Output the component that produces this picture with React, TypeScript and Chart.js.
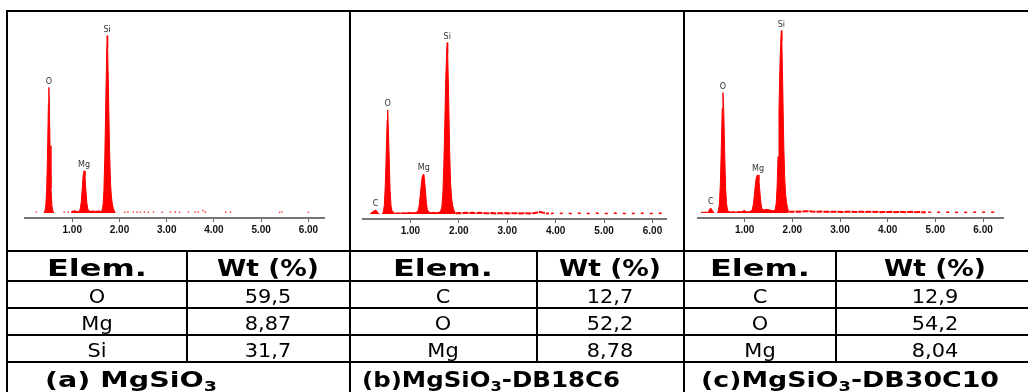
import React, { useEffect, useRef } from 'react';
import { Chart, registerables } from 'chart.js';

Chart.register(...registerables);

// ---------------- Data ----------------
const tickValues = [1, 2, 3, 4, 5, 6];
const tickLabels = ['1.00', '2.00', '3.00', '4.00', '5.00', '6.00'];

// (a) MgSiO3 spectrum
const aEnergy = [0.4, 0.42, 0.44, 0.46, 0.48, 0.495, 0.505, 0.515, 0.53, 0.55, 0.57, 0.59, 0.61, 0.62,
  0.98, 1.0, 1.03, 1.06, 1.09, 1.12, 1.15, 1.17, 1.19, 1.21, 1.23, 1.25, 1.27, 1.29, 1.31, 1.33, 1.36, 1.4, 1.45, 1.5, 1.55, 1.6,
  1.63, 1.65, 1.67, 1.69, 1.71, 1.73, 1.74, 1.75, 1.77, 1.79, 1.81, 1.83, 1.85, 1.87, 1.89, 1.91];
const aCounts = [0, 10, 40, 140, 380, 620, 708, 620, 380, 140, 40, 12, 0, null,
  0, 12, 10, 14, 8, 10, 8, 25, 60, 130, 210, 238, 205, 125, 55, 22, 12, 10, 12, 9, 12, 10,
  12, 40, 120, 320, 620, 920, 1000, 930, 650, 360, 170, 90, 50, 25, 12, 0];
const aDotEnergy = [0.24, 0.83, 0.92, 2.11, 2.18, 2.29, 2.37, 2.44, 2.53, 2.61, 2.72, 2.9, 3.08, 3.18, 3.27, 3.46, 3.6, 3.67, 3.77, 3.82, 4.25, 4.35, 5.39, 5.44, 6.0];
const aDotCounts = [6, 4, 5, 4, 6, 5, 4, 5, 6, 4, 5, 4, 5, 6, 4, 5, 4, 6, 14, 5, 4, 5, 4, 5, 4];
const aPeakNames = ['O', 'Mg', 'Si'];
const aPeakEnergy = [0.505, 1.25, 1.74];
const aPeakCounts = [708, 238, 1000];

// (b) MgSiO3-DB18C6 spectrum
const bEnergy = [0.17, 0.19, 0.22, 0.25, 0.28, 0.3, 0.32, 0.34, 0.36, 0.38,
  0.42, 0.44, 0.46, 0.48, 0.5, 0.52, 0.53, 0.54, 0.56, 0.58, 0.6, 0.62, 0.64,
  0.68, 0.74, 0.8, 0.86, 0.92, 0.98, 1.03, 1.08, 1.13,
  1.16, 1.18, 1.2, 1.22, 1.24, 1.26, 1.275, 1.29, 1.31, 1.33, 1.35, 1.38, 1.43, 1.48, 1.53, 1.58, 1.62,
  1.65, 1.67, 1.69, 1.71, 1.73, 1.75, 1.76, 1.77, 1.79, 1.81, 1.83, 1.85, 1.87, 1.89, 1.91, 1.93];
const bCounts = [0, 6, 12, 16, 22, 18, 10, 4, 0, null,
  0, 12, 45, 150, 330, 520, 575, 510, 320, 130, 45, 15, 6,
  4, 6, 4, 7, 5, 9, 6, 7, 10,
  20, 45, 95, 150, 200, 218, 221, 195, 130, 60, 25, 10, 7, 9, 6, 9, 12,
  40, 110, 270, 500, 750, 910, 947, 890, 640, 350, 170, 90, 50, 28, 14, 5];
const bBaseEnergy = [1.93, 2.0, 2.07, 2.14, 2.21, 2.28, 2.35, 2.42, 2.49, 2.56, 2.63, 2.7, 2.77, 2.84, 2.91, 2.98, 3.05, 3.12, 3.19, 3.26, 3.33, 3.4, 3.47, 3.54, 3.6, 3.65, 3.7, 3.75, 3.8, 3.86];
const bBaseCounts = [4, 5, 4, 6, 5, 6, 4, 6, 5, 4, 4, 5, 3, 4, 4, 5, 3, 4, 4, 3, 4, 4, 3, 4, 6, 12, 9, 6, 4, 3];
const bTailEnergy = [3.9, 4.0, 4.1, 4.2, 4.3, 4.4, 4.5, 4.6, 4.7, 4.8, 4.9, 5.0, 5.1, 5.2, 5.3, 5.4, 5.5, 5.6, 5.7, 5.8, 5.9, 6.0, 6.1, 6.2];
const bTailCounts = [3, 4, 3, 4, 3, 3, 4, 3, 3, 4, 4, 3, 3, 4, 4, 3, 3, 3, 4, 4, 3, 3, 3, 4];
const bPeakNames = ['C', 'O', 'Mg', 'Si'];
const bPeakEnergy = [0.28, 0.53, 1.275, 1.76];
const bPeakCounts = [22, 575, 221, 947];

// (c) MgSiO3-DB30C10 spectrum
const cEnergy = [0.08, 0.1, 0.14, 0.18, 0.21,
  0.22, 0.24, 0.26, 0.28, 0.3, 0.32, 0.34, 0.36, 0.38,
  0.43, 0.45, 0.47, 0.49, 0.51, 0.53, 0.545, 0.56, 0.58, 0.6, 0.62, 0.64, 0.66,
  0.7, 0.76, 0.82, 0.88, 0.94, 0.99, 1.03, 1.08, 1.13,
  1.16, 1.18, 1.2, 1.22, 1.24, 1.26, 1.28, 1.3, 1.32, 1.34, 1.36, 1.4, 1.45, 1.5, 1.55, 1.6, 1.64,
  1.66, 1.68, 1.7, 1.72, 1.74, 1.76, 1.77, 1.78, 1.8, 1.82, 1.84, 1.86, 1.88, 1.9, 1.92];
const cCounts = [0, 4, 3, 5, 3,
  0, 8, 18, 26, 24, 14, 6, 0, null,
  0, 14, 50, 160, 360, 580, 665, 580, 340, 140, 50, 18, 8,
  5, 7, 4, 8, 6, 14, 7, 6, 10,
  20, 45, 90, 145, 190, 208, 210, 180, 115, 55, 25, 16, 20, 18, 15, 12, 18,
  50, 140, 310, 570, 820, 970, 1008, 950, 680, 380, 190, 100, 55, 28, 10];
const cBaseEnergy = [1.92, 1.99, 2.06, 2.13, 2.2, 2.27, 2.34, 2.41, 2.48, 2.55, 2.62, 2.69, 2.76, 2.83, 2.9, 2.97, 3.04, 3.11, 3.18, 3.25, 3.32, 3.39, 3.46, 3.53, 3.6, 3.67, 3.74, 3.81, 3.88, 3.95, 4.02, 4.09, 4.16, 4.23, 4.3, 4.37, 4.44, 4.51, 4.58, 4.65, 4.72, 4.8];
const cBaseCounts = [6, 7, 6, 8, 7, 9, 10, 8, 7, 6, 8, 6, 6, 7, 6, 6, 5, 6, 6, 7, 5, 6, 6, 5, 6, 6, 5, 6, 4, 6, 5, 6, 4, 5, 6, 4, 5, 6, 4, 5, 4, 4];
const cTailEnergy = [4.85, 4.95, 5.05, 5.15, 5.25, 5.35, 5.45, 5.55, 5.65, 5.75, 5.85, 5.95, 6.05, 6.15, 6.25, 6.35];
const cTailCounts = [4, 3, 4, 3, 4, 4, 3, 4, 3, 4, 4, 3, 4, 3, 4, 3];
const cPeakNames = ['C', 'O', 'Mg', 'Si'];
const cPeakEnergy = [0.29, 0.545, 1.28, 1.77];
const cPeakCounts = [26, 665, 210, 1008];

// Tables
const tableHeaders = ['Elem.', 'Wt (%)'];
const aElements = ['O', 'Mg', 'Si'];
const aWeights = ['59,5', '8,87', '31,7'];
const bElements = ['C', 'O', 'Mg'];
const bWeights = ['12,7', '52,2', '8,78'];
const cElements = ['C', 'O', 'Mg'];
const cWeights = ['12,9', '54,2', '8,04'];
const captionPrefix = ['(a) MgSiO', '(b)MgSiO', '(c)MgSiO'];
const captionSub = ['3', '3', '3'];
const captionSuffix = ['', '-DB18C6', '-DB30C10'];

// ---------------- Components ----------------
const RED = '#ff0000';

function pts(e: number[], c: (number | null)[]) {
  return e.map((x, i) => ({ x, y: c[i] }));
}

function makePeakPlugin(names: string[], energies: number[], counts: number[]) {
  return {
    id: 'peakLabels',
    afterDatasetsDraw(chart: any) {
      const { ctx, scales } = chart;
      ctx.save();
      ctx.font = "8px 'DejaVu Sans', sans-serif";
      ctx.fillStyle = '#333';
      ctx.textAlign = 'center';
      ctx.textBaseline = 'bottom';
      names.forEach((n, i) => {
        const x = scales.x.getPixelForValue(energies[i]);
        const y = scales.y.getPixelForValue(counts[i]);
        ctx.fillText(n, x, y - 2);
      });
      ctx.restore();
    },
  };
}

type SpecProps = {
  left: number; top: number; width: number; height: number; xMax: number;
  energy: number[]; counts: (number | null)[];
  baseE?: number[]; baseC?: number[]; tailE?: number[]; tailC?: number[];
  dotE?: number[]; dotC?: number[];
  names: string[]; peakE: number[]; peakC: number[];
};

function Spectrum(p: SpecProps) {
  const ref = useRef<HTMLCanvasElement>(null);
  useEffect(() => {
    const datasets: any[] = [
      {
        data: pts(p.energy, p.counts), borderColor: RED, backgroundColor: RED, borderWidth: 1,
        fill: 'origin', pointRadius: 0, tension: 0, spanGaps: false,
      },
    ];
    if (p.baseE && p.baseC) {
      datasets.push({ data: pts(p.baseE, p.baseC), borderColor: RED, borderWidth: 2, borderDash: [6, 1], fill: false, pointRadius: 0, tension: 0 });
    }
    if (p.tailE && p.tailC) {
      datasets.push({ data: pts(p.tailE, p.tailC), borderColor: RED, borderWidth: 1.5, borderDash: [3, 6], fill: false, pointRadius: 0, tension: 0 });
    }
    if (p.dotE && p.dotC) {
      datasets.push({ data: pts(p.dotE, p.dotC), showLine: false, pointStyle: 'rect', pointRadius: 1, backgroundColor: '#ff3030', borderWidth: 0, fill: false });
    }
    const chart = new Chart(ref.current!, {
      type: 'line',
      data: { datasets },
      options: {
        responsive: false,
        animation: false,
        devicePixelRatio: 1,
        layout: { padding: 0 },
        plugins: { legend: { display: false }, tooltip: { enabled: false } },
        scales: {
          x: {
            type: 'linear', min: 0, max: p.xMax,
            afterFit: (s: any) => { s.height = 20; },
            afterBuildTicks: (s: any) => { s.ticks = tickValues.map((v) => ({ value: v })); },
            ticks: {
              autoSkip: false, maxRotation: 0, padding: 2, color: '#111',
              font: { family: "'Liberation Sans Narrow', 'Liberation Sans', sans-serif", size: 10, weight: 'bold' },
              callback: (_v: any, i: number) => tickLabels[i],
            },
            grid: { drawOnChartArea: false, drawTicks: true, tickLength: 4, color: '#666' },
            border: { display: true, color: '#777', width: 2 },
          },
          y: { display: false, min: -28, max: 1100 },
        },
      } as any,
      plugins: [makePeakPlugin(p.names, p.peakE, p.peakC)],
    });
    return () => chart.destroy();
  }, []);
  return (
    <canvas ref={ref} width={p.width} height={p.height}
      style={{ position: 'absolute', left: p.left, top: p.top, width: p.width, height: p.height }} />
  );
}

const FONT = "'DejaVu Sans', Verdana, sans-serif";

function T(props: { cx: number; y: number; size: number; len?: number; sx?: number; bold?: boolean; children: any }) {
  const extra: any = props.len ? { textLength: props.len, lengthAdjust: 'spacingAndGlyphs' } : {};
  const tf = props.sx ? `translate(${props.cx},${props.y}) scale(${props.sx},1)` : `translate(${props.cx},${props.y})`;
  return (
    <text x={0} y={0} transform={tf} {...extra}
      textAnchor="middle" fontFamily={FONT} fontSize={props.size} fontWeight={props.bold ? 'bold' : 'normal'} fill="#000">
      {props.children}
    </text>
  );
}

function Table() {
  const hY = [11, 251, 281, 308, 335, 362];
  const vFull = [7, 350, 684];
  const vCols = [187, 537, 836];
  const colCenters = [[97, 268], [443, 610], [760, 935]];
  const rowBase = [303, 330, 357];
  const elems = [aElements, bElements, cElements];
  const wts = [aWeights, bWeights, cWeights];
  const capCenters = [131, 491, 850];
  const capLens = [172, 258, 298];
  return (
    <svg width={1028} height={392} style={{ position: 'absolute', left: 0, top: 0 }}>
      {hY.map((y, i) => <line key={'h' + i} x1={6} x2={1028} y1={y} y2={y} stroke="#000" strokeWidth={2} />)}
      {vFull.map((x, i) => <line key={'v' + i} x1={x} x2={x} y1={10} y2={392} stroke="#000" strokeWidth={2} />)}
      {vCols.map((x, i) => <line key={'c' + i} x1={x} x2={x} y1={251} y2={362} stroke="#000" strokeWidth={2} />)}
      {colCenters.map((cc, k) => (
        <g key={'t' + k}>
          <T cx={cc[0]} y={276} size={23} len={100} bold>{tableHeaders[0]}</T>
          <T cx={cc[1]} y={276} size={23} len={102} bold>{tableHeaders[1]}</T>
          {rowBase.map((y, r) => (
            <g key={r}>
              <T cx={cc[0]} y={y} sx={1.1} size={19}>{elems[k][r]}</T>
              <T cx={cc[1]} y={y} sx={1.1} size={19}>{wts[k][r]}</T>
            </g>
          ))}
          <T cx={capCenters[k]} y={387} size={21} len={capLens[k]} bold>
            {captionPrefix[k]}<tspan fontSize={14} dy={4}>{captionSub[k]}</tspan><tspan dy={-4}>{captionSuffix[k]}</tspan>
          </T>
        </g>
      ))}
    </svg>
  );
}

export default function App() {
  return (
    <div style={{ position: 'fixed', left: 0, top: 0, width: 1028, height: 392, background: '#fff', overflow: 'hidden' }}>
      <Spectrum left={21} top={14} width={307} height={224} xMax={6.33}
        energy={aEnergy} counts={aCounts} dotE={aDotEnergy} dotC={aDotCounts}
        names={aPeakNames} peakE={aPeakEnergy} peakC={aPeakCounts} />
      <Spectrum left={362} top={15} width={305} height={224} xMax={6.3}
        energy={bEnergy} counts={bCounts} baseE={bBaseEnergy} baseC={bBaseCounts} tailE={bTailEnergy} tailC={bTailCounts}
        names={bPeakNames} peakE={bPeakEnergy} peakC={bPeakCounts} />
      <Spectrum left={697} top={14} width={307} height={224} xMax={6.44}
        energy={cEnergy} counts={cCounts} baseE={cBaseEnergy} baseC={cBaseCounts} tailE={cTailEnergy} tailC={cTailCounts}
        names={cPeakNames} peakE={cPeakEnergy} peakC={cPeakCounts} />
      <Table />
    </div>
  );
}
